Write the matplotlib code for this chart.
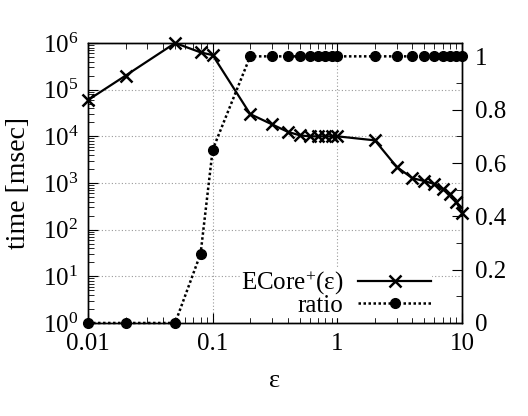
import matplotlib
matplotlib.use("Agg")
import matplotlib.pyplot as plt
import numpy as np
from matplotlib.ticker import LogLocator, MultipleLocator, FixedLocator, FixedFormatter

plt.rcParams['font.family'] = ['Liberation Serif', 'DejaVu Serif']
plt.rcParams['mathtext.fontset'] = 'custom'
plt.rcParams['mathtext.rm'] = 'Liberation Serif'
plt.rcParams['mathtext.it'] = 'Liberation Serif:italic'

# data
eps = [0.01, 0.02, 0.05, 0.08, 0.1, 0.2, 0.3, 0.4, 0.5, 0.6, 0.7, 0.8, 0.9, 1.0,
       2, 3, 4, 5, 6, 7, 8, 9, 10]
ecore_time = [6e4, 2e5, 1e6, 6.3e5, 5.5e5, 3e4, 1.8e4, 1.25e4, 1.05e4, 1.0e4, 1.0e4,
              1.0e4, 1.0e4, 1.0e4, 8.2e3, 2.2e3, 1.27e3, 1.1e3, 950, 740, 580, 390, 230]
ratio = [0, 0, 0, 0.26, 0.65, 1, 1, 1, 1, 1, 1, 1, 1, 1,
         1, 1, 1, 1, 1, 1, 1, 1, 1]

x_ticks = [0.01, 0.1, 1, 10]
x_ticklabels = ['0.01', '0.1', '1', '10']
y2_ticks = [0, 0.2, 0.4, 0.6, 0.8, 1]
y2_ticklabels = ['0', '0.2', '0.4', '0.6', '0.8', '1']

fig = plt.figure(figsize=(5.28, 4.16), dpi=100)
ax = fig.add_axes([0.1667, 0.2236, 0.875 - 0.1667, 0.8966 - 0.2236])
ax2 = ax.twinx()

l1, = ax.plot(eps, ecore_time, color='black', lw=1.6, marker='x', ms=9, mew=1.8,
              label='ECore$^{+}$(ε)', clip_on=False, zorder=3)
l2, = ax2.plot(eps, ratio, color='black', lw=1.8, ls=(0, (1, 1)), marker='o', ms=7,
               label='ratio', clip_on=False, zorder=3)

ax.set_xscale('log')
ax.set_yscale('log')
ax.set_xlim(0.01, 10)
ax.set_ylim(1, 1e6)
ax2.set_ylim(0, 1.05)

ax.xaxis.set_major_locator(FixedLocator(x_ticks))
ax.xaxis.set_major_formatter(FixedFormatter(x_ticklabels))
ax.xaxis.set_minor_locator(LogLocator(base=10, subs=np.arange(2, 10)))
ax.yaxis.set_major_locator(LogLocator(base=10, numticks=10))
ax.yaxis.set_minor_locator(LogLocator(base=10, subs=np.arange(2, 10), numticks=10))

ax2.yaxis.set_major_locator(FixedLocator(y2_ticks))
ax2.yaxis.set_major_formatter(FixedFormatter(y2_ticklabels))
ax2.yaxis.set_minor_locator(MultipleLocator(0.1))

ax.tick_params(which='both', direction='in', top=True, right=False, labelsize=18, pad=7)
ax.tick_params(which='major', length=7)
ax.tick_params(which='minor', length=4)
ax2.tick_params(which='both', direction='in', labelsize=18, pad=9)
ax2.tick_params(which='major', length=7)
ax2.tick_params(which='minor', length=4)

ax.grid(True, which='major', color='#999999', ls=(0, (1, 2)), lw=0.8)

ax.set_xlabel('ε', fontsize=19, labelpad=11)
ax.set_ylabel('time [msec]', fontsize=20, labelpad=8)

for a in (ax, ax2):
    for s in a.spines.values():
        s.set_linewidth(1.0)

ax2.legend([l1, l2], [l1.get_label(), l2.get_label()], loc='lower right',
           bbox_to_anchor=(0.95, -0.023), markerfirst=False, frameon=True,
           fancybox=False, edgecolor='white', framealpha=1, fontsize=18,
           handlelength=2.9, labelspacing=-0.1, borderpad=0.0, handletextpad=0.6)

fig.savefig('out.png', dpi=100)
